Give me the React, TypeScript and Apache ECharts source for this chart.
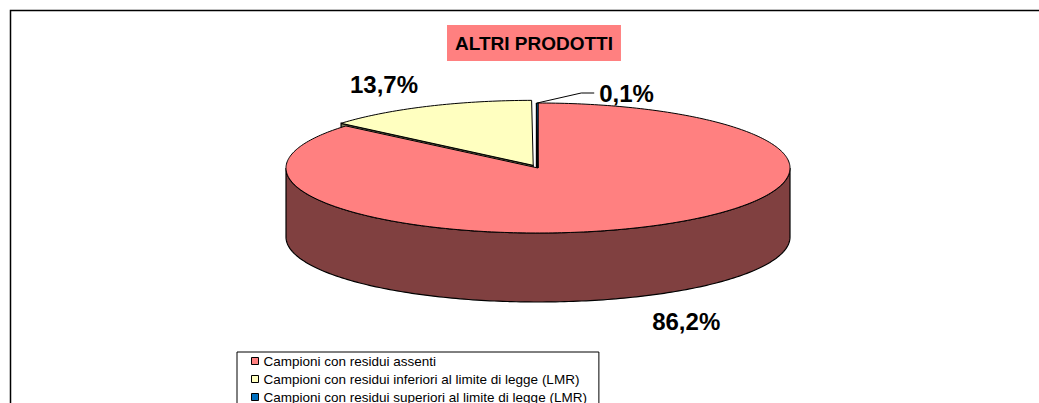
import React, { useEffect, useRef } from 'react';
import * as echarts from 'echarts';

const categories = [
  'Campioni con residui assenti',
  'Campioni con residui inferiori al limite di legge (LMR)',
  'Campioni con residui superiori al limite di legge (LMR)',
];
const values = [86.2, 13.7, 0.1];
const topColors = ['#FF8080', '#FFFFC0', '#0070C0'];
const sideColors = ['#804040', '#808060', '#003860'];
const chartTitle = 'ALTRI PRODOTTI';

const FONT = '"Liberation Sans", Arial, Helvetica, sans-serif';

// 3D pie geometry (styling, not data)
const CX = 538;
const CY = 168;
const RX = 252;
const RY = 65;
const DEPTH = 69;
const EXPLODE = [0, 0.045, 0];

const total = values.reduce((a, b) => a + b, 0);
const starts: number[] = [];
const ends: number[] = [];
{
  let acc = 0;
  values.forEach((v) => {
    starts.push((acc / total) * 2 * Math.PI);
    acc += v;
    ends.push((acc / total) * 2 * Math.PI);
  });
}

function offsetOf(i: number): number[] {
  const mid = (starts[i] + ends[i]) / 2;
  const e = EXPLODE[i];
  return [RX * e * Math.sin(mid), -RY * e * Math.cos(mid)];
}
function rim(a: number, o: number[], dy = 0): number[] {
  return [CX + o[0] + RX * Math.sin(a), CY + o[1] - RY * Math.cos(a) + dy];
}
function arcPts(a0: number, a1: number, o: number[], dy: number): number[][] {
  const n = Math.max(2, Math.ceil(Math.abs(a1 - a0) / (Math.PI / 180)) + 1);
  const pts: number[][] = [];
  for (let k = 0; k < n; k++) {
    const a = a0 + ((a1 - a0) * k) / (n - 1);
    pts.push(rim(a, o, dy));
  }
  return pts;
}
const fmt = (v: number) => v.toFixed(1).replace('.', ',') + '%';

function renderSides(params: any, api: any) {
  const i = api.value(0);
  const s = starts[i];
  const e = ends[i];
  const o = offsetOf(i);
  const c = [CX + o[0], CY + o[1]];
  const cd = [c[0], c[1] + DEPTH];
  const style = { fill: sideColors[i], stroke: '#000', lineWidth: 1.2 };
  const children: any[] = [];
  const faces: number[] = [];
  if (Math.sin(s) < -1e-6) faces.push(s);
  if (Math.sin(e) > 1e-6) faces.push(e);
  faces.forEach((a) => {
    const r = rim(a, o);
    const rd = rim(a, o, DEPTH);
    children.push({ type: 'polygon', shape: { points: [c, r, rd, cd] }, style });
  });
  const lo = Math.max(s, Math.PI / 2);
  const hi = Math.min(e, (3 * Math.PI) / 2);
  if (lo < hi) {
    const top = arcPts(lo, hi, o, 0);
    const bot = arcPts(lo, hi, o, DEPTH).reverse();
    children.push({ type: 'polygon', shape: { points: top.concat(bot) }, style });
  }
  return { type: 'group', children };
}

function renderTop(params: any, api: any) {
  const i = api.value(0);
  const s = starts[i];
  const e = ends[i];
  const o = offsetOf(i);
  const c = [CX + o[0], CY + o[1]];
  const children: any[] = [];
  children.push({
    type: 'polygon',
    shape: { points: [c].concat(arcPts(s, e, o, 0)) },
    style: { fill: topColors[i], stroke: '#000', lineWidth: 1 },
  });
  const mid = (s + e) / 2;
  const frac = values[i] / total;
  const textStyle = {
    text: fmt(values[i]),
    fill: '#000',
    fontSize: 24,
    fontWeight: 'bold',
    fontFamily: FONT,
    verticalAlign: 'middle',
  };
  if (frac < 0.01) {
    const a = rim(mid, o);
    children.push({
      type: 'polyline',
      shape: { points: [a, [a[0] + 44, a[1] - 10], [a[0] + 57, a[1] - 10]] },
      style: { stroke: '#000', lineWidth: 1, fill: null },
    });
    children.push({
      type: 'text',
      style: { ...textStyle, x: a[0] + 62, y: a[1] - 10, align: 'left' },
    });
  } else {
    const k = 1.4;
    const x = c[0] + k * RX * Math.sin(mid);
    const y = c[1] - k * RY * Math.cos(mid) + (Math.cos(mid) < 0 ? DEPTH : 0) + 2;
    children.push({
      type: 'text',
      style: { ...textStyle, x, y, align: 'center' },
    });
  }
  return { type: 'group', children };
}

export default function App() {
  const ref = useRef<HTMLDivElement>(null);
  useEffect(() => {
    if (!ref.current) return;
    const chart = echarts.init(ref.current, null, { renderer: 'svg' });
    const series: any[] = [
      {
        type: 'custom',
        name: '__sides',
        coordinateSystem: 'none',
        silent: true,
        z: 1,
        // back slices first, so the front wall is painted last
        data: values.map((_, i) => [i]).reverse(),
        renderItem: renderSides,
      },
    ];
    categories.forEach((name, i) => {
      series.push({
        type: 'custom',
        name,
        coordinateSystem: 'none',
        silent: true,
        z: 2,
        itemStyle: { color: topColors[i] },
        data: [[i]],
        renderItem: renderTop,
      });
    });
    chart.setOption({
      animation: false,
      backgroundColor: '#fff',
      title: {
        text: chartTitle,
        left: 447,
        top: 25,
        backgroundColor: '#FF8080',
        padding: [9, 8, 8, 8],
        textStyle: {
          fontSize: 19,
          fontWeight: 'bold',
          fontFamily: FONT,
          color: '#000',
          lineHeight: 19,
        },
      },
      legend: {
        type: 'plain',
        data: categories,
        orient: 'vertical',
        left: 237,
        top: 352,
        height: 120,
        icon: 'rect',
        itemWidth: 7,
        itemHeight: 7,
        itemGap: 4,
        padding: [2, 12, 4, 14],
        borderColor: '#000',
        borderWidth: 1,
        selectedMode: false,
        itemStyle: { borderColor: '#000', borderWidth: 1 },
        textStyle: { fontSize: 13.5, fontFamily: FONT, color: '#000', lineHeight: 14 },
      },
      graphic: [
        {
          type: 'rect',
          silent: true,
          shape: { x: 10.5, y: 10.5, width: 1200, height: 600 },
          style: { fill: 'none', stroke: '#000', lineWidth: 1.5 },
        },
      ],
      series,
    });
    return () => chart.dispose();
  }, []);
  return (
    <div
      ref={ref}
      style={{ position: 'absolute', left: 0, top: 0, width: 1039, height: 403, background: '#fff' }}
    />
  );
}
